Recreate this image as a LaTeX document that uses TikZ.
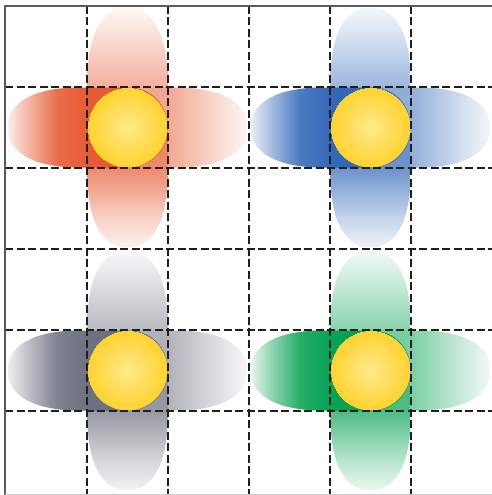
\documentclass[tikz,border=0pt]{standalone}
\usepackage{tikz}
\definecolor{fred}{RGB}{230,86,46}
\definecolor{fblue}{RGB}{45,100,182}
\definecolor{fgray}{RGB}{104,109,124}
\definecolor{fgreen}{RGB}{0,160,80}
\definecolor{sunin}{RGB}{255,234,140}
\definecolor{sunout}{RGB}{255,210,45}
\definecolor{gridcol}{RGB}{35,30,30}
\definecolor{framecol}{RGB}{90,90,90}
% vertical shadings: 0pt = end near the centre, 80pt = grid line, 160pt = tip
\newcommand{\declarepetals}[2]{%
  \pgfdeclareverticalshading{#1top}{80pt}{color(0pt)=(#2!55); color(80pt)=(#2!47); color(130pt)=(#2!20); color(160pt)=(#2!5)}%
  \pgfdeclareverticalshading{#1right}{80pt}{color(0pt)=(#2!58); color(80pt)=(#2!52); color(130pt)=(#2!22); color(160pt)=(#2!5)}%
  \pgfdeclareverticalshading{#1bottom}{80pt}{color(0pt)=(#2!75); color(80pt)=(#2!70); color(130pt)=(#2!28); color(160pt)=(#2!8)}%
  \pgfdeclareverticalshading{#1left}{80pt}{color(0pt)=(#2); color(80pt)=(#2!97); color(110pt)=(#2!86); color(140pt)=(#2!42); color(160pt)=(#2!10)}%
}
\declarepetals{red}{fred}
\declarepetals{blue}{fblue}
\declarepetals{gray}{fgray}
\declarepetals{green}{fgreen}
\pgfdeclareradialshading{sun}{\pgfpoint{0pt}{0pt}}{color(0pt)=(sunin); color(40pt)=(sunout)}
\tikzset{
  gridline/.style={draw=gridcol, line width=1.3pt, dash pattern=on 8pt off 3.5pt},
  framelinestyle/.style={draw=framecol, line width=1.6pt},
  shadeholder/.style={inner sep=0pt, outer sep=0pt, transform shape},
}
% petal pointing up in local coordinates: tip at (0,-120), centre end at (0,40)
\newcommand{\petalpath}{(-40,0) -- (-40,-48) .. controls (-40,-94) and (-25,-120) .. (0,-120)
  .. controls (25,-120) and (40,-94) .. (40,-48) -- (40,0)
  .. controls (40,25) and (22,40) .. (0,40) .. controls (-22,40) and (-40,25) .. (-40,0) -- cycle}
\newcommand{\drawpetal}[3]{% name, shading, rotation
  \begin{scope}[rotate=#3]
    \clip \petalpath;
    \node[shadeholder] (#1) at (0,-40) {\pgfuseshading{#2}};
  \end{scope}%
}
\newcommand{\drawflower}[3]{%
  \begin{scope}[shift={(#2,#3)}]
    \drawpetal{#1-top}{#1top}{0}
    \drawpetal{#1-right}{#1right}{-90}
    \drawpetal{#1-bottom}{#1bottom}{180}
    \drawpetal{#1-left}{#1left}{90}
    \begin{scope}
      \clip (0,0) circle [radius=40];
      \node[shadeholder] (#1-sun) at (0,0) {\pgfuseshading{sun}};
    \end{scope}
  \end{scope}%
}
\begin{document}
\begin{tikzpicture}[x=1pt, y=-1pt]
  \useasboundingbox (0,0) rectangle (492,495);
  \fill[white] (0,0) rectangle (492,495);
  \drawflower{red}{127.5}{127.5}
  \drawflower{blue}{370.5}{127.5}
  \drawflower{gray}{127.5}{370.5}
  \drawflower{green}{370.5}{370.5}
  \foreach \g in {87,168,249,330,411}{
    \draw[gridline] (\g,6) -- (\g,495);
    \draw[gridline] (5,\g) -- (492,\g);
  }
  \draw[framelinestyle] (5,495) -- (5,6) -- (492,6);
  \draw[black!20, line width=1.2pt] (5,494.4) -- (492,494.4);
\end{tikzpicture}
\end{document}
